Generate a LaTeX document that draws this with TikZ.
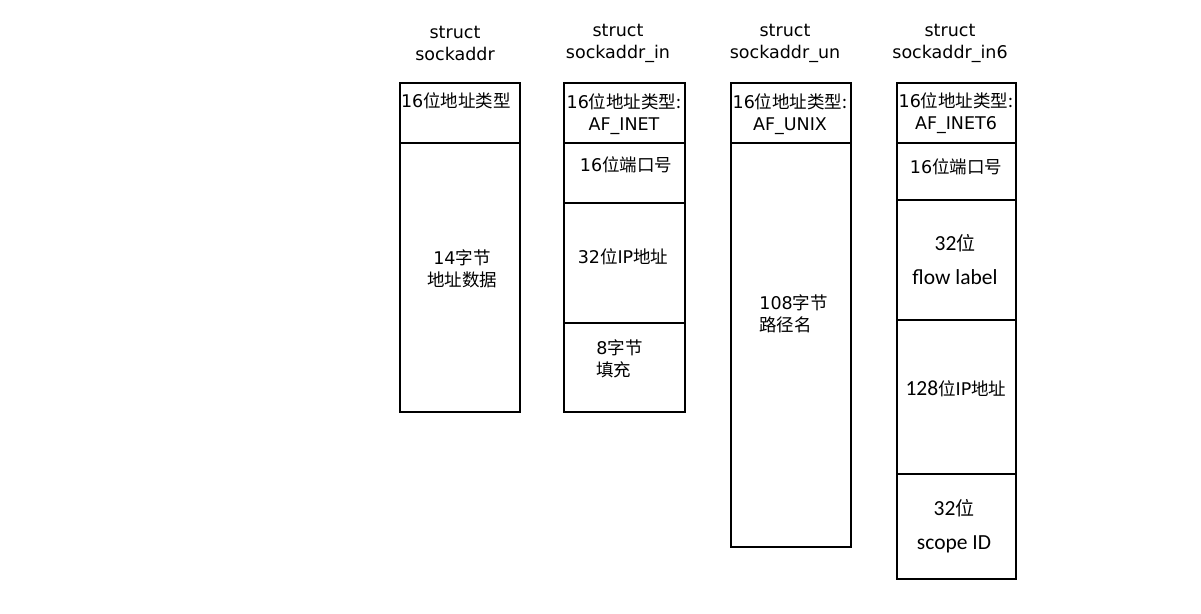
\documentclass[tikz,border=0pt]{standalone}
\usepackage{fontspec}
\setmainfont{DejaVu Sans}
\newfontfamily\cjk{Noto Sans CJK SC}
\newfontfamily\calfont{Carlito}
\newcommand\zh[1]{{\cjk #1}}
\usetikzlibrary{positioning}

\begin{document}
\begin{tikzpicture}[x=.5pt,y=-.5pt,
	every node/.style={font=\fontsize{8.75}{11}\selectfont,inner sep=0pt,align=center},
	cell/.style={line width=1.3pt,line cap=rect},
	wide/.style={font=\fontsize{10.75}{17}\selectfont\calfont}]
	\useasboundingbox (0,0) rectangle (1201,614);
	\foreach \l/\r/\b in {400/520/412,564/685/412,731/851/547,897/1016/579} \draw[cell] (\l,83) rectangle (\r,\b);
	\foreach \l/\r/\y in {400/520/143,564/685/143,564/685/203,564/685/323,731/851/143,897/1016/143,897/1016/200,897/1016/320,897/1016/474} \draw[cell] (\l,\y) -- (\r,\y);

	\node (t1) at (455,43) {struct\\sockaddr};
	\node (t2) at (618,43) {struct\\sockaddr\_in};
	\node (t3) at (785,43) {struct\\sockaddr\_un};
	\node (t4) at (950,43) {struct\\sockaddr\_in6};

	\node (a1) at (456,101) {16\zh{位地址类型}};
	\node (a2) at (462,269) {14\zh{字节}\\\zh{地址数据}};

	\node (b1) at (624,114) {16\zh{位地址类型:}\\AF\_INET};
	\node (b2) at (626,165) {16\zh{位端口号}};
	\node (b3) at (623,257) {32\zh{位}IP\zh{地址}};
	\node[anchor=west,align=left] (b4) at (596,359) {8\zh{字节}\\\zh{填充}};

	\node (c1) at (790,114) {16\zh{位地址类型:}\\AF\_UNIX};
	\node[anchor=west,align=left] (c2) at (759,314) {108\zh{字节}\\\zh{路径名}};

	\node (d1) at (956,113) {16\zh{位地址类型:}\\AF\_INET6};
	\node (d2) at (956,167) {16\zh{位端口号}};
	\node[wide] (d3) at (955,260) {32{\fontsize{9.5}{17}\selectfont\zh{位}}\\flow label};
	\node (d4) at (956,389) {{\calfont\fontsize{10.75}{17}\selectfont 128}\zh{位}IP\zh{地址}};
	\node[wide] (d5) at (954,526) {32{\fontsize{9.5}{17}\selectfont\zh{位}}\\scope ID};
\end{tikzpicture}
\end{document}
